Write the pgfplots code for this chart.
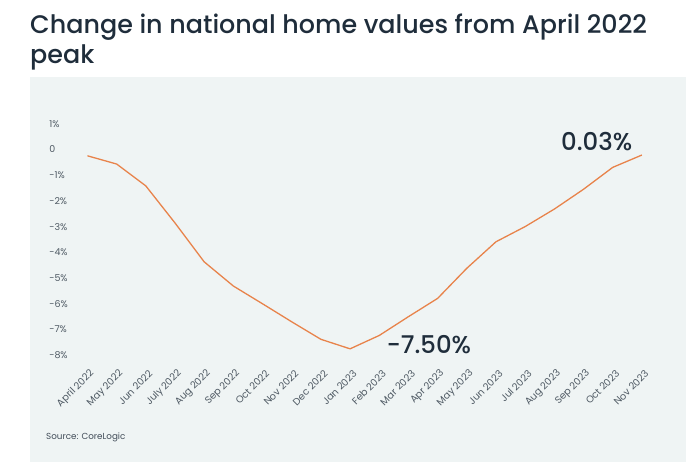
\documentclass[border=0pt]{standalone}
\usepackage{fontspec}
\setmainfont{Poppins}
\newfontfamily\titlefont{Poppins Medium}
\usepackage{pgfplots}
\pgfplotsset{compat=1.18}
\definecolor{panel}{HTML}{EFF4F4}
\definecolor{lineor}{HTML}{E8834B}
\definecolor{titlec}{HTML}{1F2D3B}
\definecolor{tickc}{HTML}{4F5A64}
\begin{document}
\begin{tikzpicture}[x=1bp,y=1bp]
\path[use as bounding box] (0,0) rectangle (694,469);
\fill[panel] (30,7) rectangle (686,391.7);
\node[anchor=base west, inner sep=0pt, text=titlec, font=\titlefont\fontsize{25.5}{29}\selectfont] at (30,435.7) {Change in national home values from April 2022};
\node[anchor=base west, inner sep=0pt, text=titlec, font=\titlefont\fontsize{25.5}{29}\selectfont] at (30,405.7) {peak};
\node[anchor=base west, inner sep=0pt, text=titlec!85, font=\fontsize{8.8}{10}\selectfont] at (46,29) {Source: CoreLogic};
\begin{axis}[
  at={(29.1bp,97bp)}, anchor=south west,
  scale only axis, width=641.96bp, height=254.8bp,
  xmin=-2, xmax=20, ymin=-8.4, ymax=1.5,
  axis line style={draw=none},
  major tick length=0pt,
  clip=false,
  xtick={0,...,19},
  xticklabels={April 2022, May 2022, Jun 2022, July 2022, Aug 2022, Sep 2022, Oct 2022, Nov 2022, Dec 2022, Jan 2023, Feb 2023, Mar 2023, Apr 2023, May 2023, Jun 2023, Jul 2023, Aug 2023, Sep 2023, Oct 2023, Nov 2023},
  xticklabel style={xshift=5bp, rotate=45, anchor=east, inner sep=0pt, text=tickc, font=\fontsize{9.8}{11}\selectfont},
  ytick={-8,-7,-6,-5,-4,-3,-2,-1,0,1},
  yticklabels={-8\%,-7\%,-6\%,-5\%,-4\%,-3\%,-2\%,-1\%,0,1\%},
  yticklabel style={anchor=base west, inner sep=0pt, xshift=20bp, yshift=3bp, text=tickc, font=\fontsize{9.5}{11}\selectfont},
]
\addplot[lineor, line width=1.3bp, mark=none] coordinates {
(0,0) (1,-0.32) (2,-1.17) (3,-2.61) (4,-4.12) (5,-5.06) (6,-5.75) (7,-6.45) (8,-7.13) (9,-7.50)
(10,-6.98) (11,-6.25) (12,-5.54) (13,-4.37) (14,-3.34) (15,-2.75) (16,-2.07) (17,-1.30) (18,-0.45) (19,0.03)
};
\node[text=titlec, font=\titlefont\fontsize{24.5}{28}\selectfont, inner sep=0pt] at (axis cs:11.70,-7.33) {-7.50\%};
\node[text=titlec, font=\titlefont\fontsize{24.5}{28}\selectfont, inner sep=0pt] at (axis cs:17.45,0.536) {0.03\%};
\end{axis}
\end{tikzpicture}
\end{document}
